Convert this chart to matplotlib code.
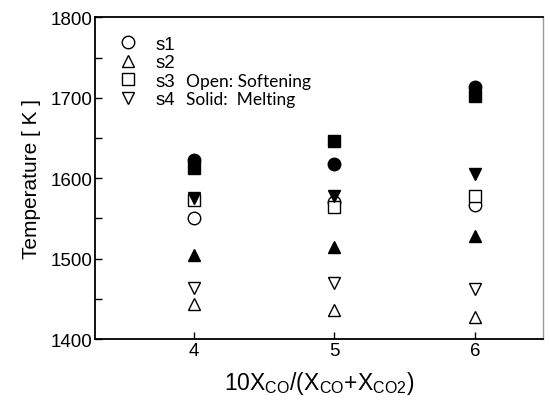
import matplotlib.pyplot as plt
from matplotlib.lines import Line2D

plt.rcParams['font.family'] = ['Liberation Sans', 'DejaVu Sans']
plt.rcParams['mathtext.default'] = 'regular'

# x positions: 10*X_CO/(X_CO+X_CO2)
ratio = [4, 5, 6]

# softening (open) and melting (solid) temperatures [K]
soft_s1 = [1551, 1570, 1567]
soft_s2 = [1444, 1436, 1428]
soft_s3 = [1573, 1564, 1578]
soft_s4 = [1463, 1470, 1462]

melt_s1 = [1623, 1618, 1714]
melt_s2 = [1505, 1515, 1528]
melt_s3 = [1613, 1647, 1702]
melt_s4 = [1576, 1578, 1605]

series = ['s1', 's2', 's3', 's4']
markers = ['o', '^', 's', 'v']
soft = [soft_s1, soft_s2, soft_s3, soft_s4]
melt = [melt_s1, melt_s2, melt_s3, melt_s4]

fig = plt.figure(figsize=(5.5, 4.02), dpi=100)
ax = fig.add_axes([0.1727, 0.154, 0.8146, 0.8])

for m, s, ml in zip(markers, soft, melt):
    ax.plot(ratio, s, linestyle='none', marker=m, markersize=9,
            markerfacecolor='white', markeredgecolor='black', markeredgewidth=1.0)
    ax.plot(ratio, ml, linestyle='none', marker=m, markersize=9,
            markerfacecolor='black', markeredgecolor='black', markeredgewidth=1.0)

ax.set_xlim(3.3, 6.48)
ax.set_ylim(1400, 1800)
ax.set_xticks([4, 5, 6])
ax.set_yticks([1400, 1500, 1600, 1700, 1800])
ax.set_yticks([1450, 1550, 1650, 1750], minor=True)
ax.tick_params(axis='both', which='both', direction='in', labelsize=13.5,
               length=5, width=1, pad=2)
ax.tick_params(axis='x', which='both', top=False)
ax.tick_params(axis='y', which='both', right=False)

for side in ['left', 'bottom', 'top']:
    ax.spines[side].set_linewidth(1.3)
    ax.spines[side].set_color('black')
ax.spines['right'].set_color('#999999')
ax.spines['right'].set_linewidth(1.0)

ax.set_ylabel('Temperature [ K ]', fontsize=15, labelpad=7)
ax.set_xlabel(r'10X$_{CO}$/(X$_{CO}$+X$_{CO2}$)', fontsize=16.5, labelpad=7)

handles = [Line2D([], [], linestyle='none', marker=m, markersize=9,
                  markerfacecolor='white', markeredgecolor='black')
           for m in markers]
ax.legend(handles, series, loc='upper left', bbox_to_anchor=(0.014, 0.985),
          frameon=False, fontsize=13.5, handletextpad=0.7, labelspacing=0.08,
          handlelength=1.5, borderaxespad=0.3)

ax.text(0.203, 0.802, 'Open: Softening', transform=ax.transAxes,
        fontsize=12.5, family=['Lato', 'DejaVu Sans'], va='center')
ax.text(0.203, 0.745, 'Solid:  Melting', transform=ax.transAxes,
        fontsize=12.5, family=['Lato', 'DejaVu Sans'], va='center')

fig.savefig('out.png', dpi=100)
